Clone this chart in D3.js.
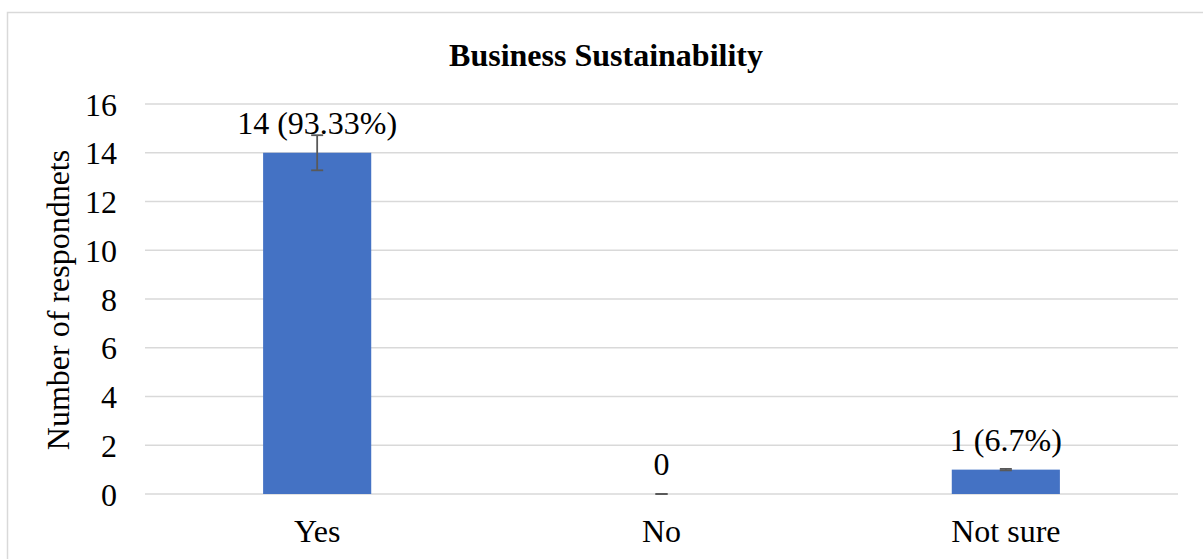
<!DOCTYPE html>
<html>
<head>
<meta charset="utf-8">
<script src="https://cdn.jsdelivr.net/npm/d3@7/dist/d3.min.js"></script>
<style>
  html, body { margin: 0; padding: 0; background: #fff; }
  svg { display: block; }
  text { font-family: "Liberation Serif", "Times New Roman", serif; fill: #000; }
</style>
</head>
<body>
<svg id="chart" width="1203" height="559"></svg>
<script>
// Survey answers on business sustainability
const categories = ["Yes", "No", "Not sure"];
const counts = [14, 0, 1];
const errors = [0.72, 0, 0.03];
const valueLabels = ["14 (93.33%)", "0", "1 (6.7%)"];
const yTicks = [0, 2, 4, 6, 8, 10, 12, 14, 16];

const svg = d3.select("#chart");
const W = 1203, H = 559;
const plot = { left: 145, right: 1178, top: 104, bottom: 494 };
const FONT = "Liberation Serif, Times New Roman, serif";

// Outer chart frame
svg.append("rect")
  .attr("x", 7.5).attr("y", 12.5)
  .attr("width", W + 10).attr("height", H + 10)
  .attr("fill", "#fff").attr("stroke", "#d9d9d9").attr("stroke-width", 1.5);

const x = d3.scaleBand().domain(categories).range([plot.left, plot.right]).paddingInner(0.686).paddingOuter(0.343);
const y = d3.scaleLinear().domain([0, 16]).range([plot.bottom, plot.top]);

// Horizontal gridlines
svg.append("g").selectAll("line").data(yTicks).join("line")
  .attr("x1", plot.left).attr("x2", plot.right)
  .attr("y1", d => y(d)).attr("y2", d => y(d))
  .attr("stroke", "#d9d9d9").attr("stroke-width", 1.5);

// Y axis tick labels
const yAxis = d3.axisLeft(y).tickValues(yTicks).tickSize(0).tickPadding(28);
const gy = svg.append("g").attr("transform", `translate(${plot.left},0)`).call(yAxis);
gy.select(".domain").remove();
gy.selectAll("text").style("font-family", FONT)
  .style("font-size", "32px").attr("fill", "#000").attr("dy", "0.35em");

// X axis category labels
const xAxis = d3.axisBottom(x).tickSize(0).tickPadding(25);
const gx = svg.append("g").attr("transform", `translate(0,${plot.bottom})`).call(xAxis);
gx.select(".domain").remove();
gx.selectAll("text").style("font-family", FONT)
  .style("font-size", "32px").attr("fill", "#000");

// Bars
svg.append("g").selectAll("rect").data(categories).join("rect")
  .attr("x", d => x(d)).attr("width", x.bandwidth())
  .attr("y", (d, i) => y(counts[i]))
  .attr("height", (d, i) => y(0) - y(counts[i]))
  .attr("fill", "#4472c4");

// Error bars
const eb = svg.append("g").attr("stroke", "#595959").attr("stroke-width", 1.8);
categories.forEach((c, i) => {
  const cx = x(c) + x.bandwidth() / 2;
  const lo = y(counts[i] - errors[i]), hi = y(counts[i] + errors[i]);
  eb.append("line").attr("x1", cx).attr("x2", cx).attr("y1", lo).attr("y2", hi);
  eb.append("line").attr("x1", cx - 6).attr("x2", cx + 6).attr("y1", lo).attr("y2", lo);
  eb.append("line").attr("x1", cx - 6).attr("x2", cx + 6).attr("y1", hi).attr("y2", hi);
});

// Value labels
svg.append("g").selectAll("text").data(categories).join("text")
  .attr("x", d => x(d) + x.bandwidth() / 2)
  .attr("y", (d, i) => y(counts[i]) - 19)
  .attr("text-anchor", "middle")
  .style("font-size", "32px")
  .text((d, i) => valueLabels[i]);

// Title
svg.append("text")
  .attr("x", 606).attr("y", 66)
  .attr("text-anchor", "middle")
  .style("font-size", "32px").style("font-weight", "bold")
  .text("Business Sustainability");

// Y axis title
svg.append("text")
  .attr("transform", `translate(69,300) rotate(-90)`)
  .attr("text-anchor", "middle")
  .style("font-size", "32px")
  .text("Number of respondnets");
</script>
</body>
</html>
